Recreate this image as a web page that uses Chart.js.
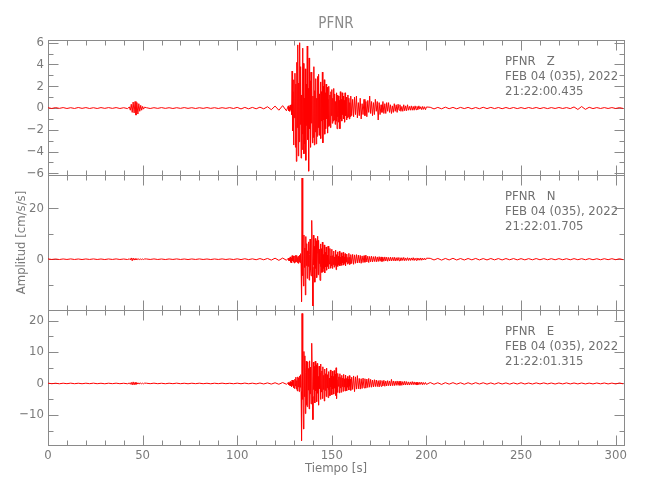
<!DOCTYPE html>
<html lang="es">
<head>
<meta charset="utf-8"/>
<title>PFNR</title>
<script src="https://cdn.jsdelivr.net/npm/chart.js"></script>
<style>
    body { margin: 0; background: #ffffff; }
    #wrap { position: relative; width: 650px; height: 500px; }
</style>
</head>
<body>
<div id="wrap"><canvas id="seis" width="650" height="500"></canvas></div>
<script>
// sample times (s) of the decimated traces
const time = [
    0,2,4,6,8,10,12,14,16,18,20,22,24,26,28,30,32,34,36,38,40,42,
    43,43.5,44,44.5,45,45.5,46,46.5,47,47.5,48,48.5,49,49.5,50,50.5,51,
    52,54,56,58,60,62,64,66,68,70,72,74,76,78,80,82,84,86,88,90,92,94,96,98,100,102,104,106,108,110,112,114,116,118,120,122,124,126,
    127,127.25,127.5,127.75,128,128.25,128.5,128.75,
    129,129.25,129.5,129.75,130,130.25,130.5,130.75,
    131,131.25,131.5,131.75,132,132.25,132.5,132.75,
    133,133.25,133.5,133.75,134,134.25,134.5,134.75,
    135,135.25,135.5,135.75,136,136.25,136.5,136.75,
    137,137.25,137.5,137.75,138,138.25,138.5,138.75,
    139,139.25,139.5,139.75,140,140.25,140.5,140.75,
    141,141.25,141.5,141.75,142,142.25,142.5,142.75,
    143,143.25,143.5,143.75,144,144.25,144.5,144.75,
    145,145.25,145.5,145.75,146,146.25,146.5,146.75,
    147,147.25,147.5,147.75,148,148.25,148.5,148.75,
    149,149.25,149.5,149.75,150,150.25,150.5,150.75,
    151,151.25,151.5,151.75,152,152.25,152.5,152.75,
    153,153.25,153.5,153.75,154,154.25,154.5,154.75,
    155,155.25,155.5,155.75,156,156.25,156.5,156.75,
    157,157.25,157.5,157.75,158,158.25,158.5,158.75,
    159,159.25,159.5,159.75,
    160,160.5,161,161.5,162,162.5,163,163.5,164,164.5,
    165,165.5,166,166.5,167,167.5,168,168.5,169,169.5,
    170,170.5,171,171.5,172,172.5,173,173.5,174,174.5,
    175,175.5,176,176.5,177,177.5,178,178.5,179,179.5,
    180,180.5,181,181.5,182,182.5,183,183.5,184,184.5,
    185,185.5,186,186.5,187,187.5,188,188.5,189,189.5,
    190,190.5,191,191.5,192,192.5,193,193.5,194,194.5,
    195,195.5,196,196.5,197,197.5,198,198.5,199,199.5,
    200,
    202,204,206,208,210,212,214,216,218,220,222,224,226,228,230,232,234,236,238,240,
    242,244,246,248,250,252,254,256,258,260,262,264,266,268,270,272,274,276,278,280,
    282,284,286,288,290,292,294,296,298,300,302,304
];

// componente Z (cm/s/s)
const accZ = [
    0.03,-0.04,0.04,-0.03,0.04,-0.04,0.03,-0.04,0.05,-0.03,0.04,-0.04,0.03,-0.04,0.04,-0.03,0.04,-0.03,0.04,-0.04,0.03,-0.05,
    0.1,-0.2,0.35,-0.4,0.55,-0.45,0.6,-0.65,0.5,-0.55,0.4,-0.3,0.25,-0.2,0.15,-0.1,0.08,
    0.03,-0.04,0.03,-0.03,0.04,-0.03,0.03,-0.04,0.03,-0.03,
    0.04,-0.03,0.03,-0.04,0.03,-0.03,0.04,-0.03,0.03,-0.04,
    0.03,-0.03,0.04,-0.04,0.06,-0.08,0.06,-0.07,0.06,-0.07,
    0.08,-0.07,0.12,-0.15,0.18,-0.2,0.22,-0.25,
    0.2,-0.25,0.1,-0.3,0.28,-0.15,0.3,-0.6,
    3.4,-2.1,1.5,-3.4,2.6,-0.9,3.2,-3.6,
    2.2,-4.9,4.2,-1.8,5.8,-4.4,2.3,-3.1,
    6.0,-1.5,3.8,-4.6,1.2,-3.8,5.5,-2.4,
    4.1,-4.2,0.9,-3.3,3.6,-4.8,2.2,-1.6,
    5.7,-2.9,1.8,-5.8,4.6,-1.9,2.5,-3.6,
    3.3,-1.4,2.1,-3.2,1.1,-2.7,3.8,-3.4,
    1.6,-2.2,2.7,-3.3,0.9,-2.6,2.9,-1.8,
    3.1,-2.5,1.3,-2.0,2.4,-2.8,1.5,-1.2,
    3.3,-3.2,2.0,-1.1,2.6,-2.4,1.4,-1.9,
    2.2,-1.0,1.9,-2.3,0.8,-1.7,2.0,-1.6,
    1.2,-1.8,1.5,-0.7,1.7,-1.4,0.9,-1.2,
    1.8,-1.1,1.3,-1.5,0.6,-1.2,1.4,-1.9,
    1.2,-0.8,1.1,-1.3,0.7,-1.9,1.5,-1.0,
    0.8,-1.2,1.4,-0.6,1.1,-1.0,0.7,-1.3,
    1.4,-0.7,1.0,-1.1,0.6,-0.9,1.2,-0.8,
    0.9,-1.0,0.5,-0.8,
    1.1,-0.7,0.8,-0.8,1.0,-0.6,1.1,-0.9,0.5,-0.7,
    0.9,-1.0,0.4,-0.6,0.8,-0.7,0.6,-0.8,0.7,-0.4,
    1.1,-0.5,0.6,-0.7,0.5,-0.6,0.8,-0.3,0.6,-1.1,
    0.5,-0.6,0.3,-0.4,0.6,-0.5,0.4,-0.5,0.5,-0.3,
    0.5,-0.4,0.3,-0.5,0.2,-0.4,0.4,-0.3,0.3,-0.4,
    0.35,-0.2,0.3,-0.3,0.15,-0.3,0.3,-0.25,0.2,-0.25,
    0.3,-0.2,0.15,-0.2,0.2,-0.2,0.15,-0.2,0.2,-0.15,
    0.15,-0.15,0.2,-0.1,0.12,-0.15,0.15,-0.12,0.12,-0.15,
    0.1,
    0.07,-0.08,0.06,-0.07,0.08,-0.06,0.06,-0.07,0.06,-0.05,
    0.06,-0.07,0.05,-0.06,0.07,-0.05,0.06,-0.05,0.05,-0.06,
    0.05,-0.05,0.05,-0.05,0.04,-0.05,0.05,-0.04,0.05,-0.05,
    0.04,-0.05,0.04,-0.04,0.05,-0.04,0.04,-0.05,0.1,-0.13,
    0.14,-0.12,0.07,-0.05,0.04,-0.04,0.04,-0.04,0.04,-0.04,
    0.04,-0.04
];

// componente N (cm/s/s)
const accN = [
    0.12,-0.1,0.09,-0.12,0.1,-0.09,0.12,-0.1,0.09,-0.12,0.1,-0.09,0.12,-0.1,0.09,-0.12,0.1,-0.09,0.12,-0.1,0.09,-0.12,
    0.15,-0.25,0.5,-0.6,0.45,-0.35,0.25,-0.25,0.2,-0.15,0.15,-0.15,0.12,-0.12,0.1,-0.12,0.1,
    0.1,-0.09,0.12,-0.1,0.09,-0.12,0.1,-0.09,0.12,-0.1,
    0.09,-0.12,0.1,-0.09,0.12,-0.1,0.09,-0.12,0.1,-0.09,
    0.12,-0.1,0.1,-0.12,0.15,-0.14,0.18,-0.16,0.15,-0.2,
    0.25,-0.22,0.3,-0.35,0.4,-0.45,0.45,-0.4,
    0.4,-0.5,0.3,-0.6,0.9,-1.2,0.5,-1.4,
    1.4,-0.6,1.3,-1.2,0.8,-1.5,1.3,-1.1,
    1.6,-0.9,1.4,-1.3,0.7,-1.6,1.2,-1.0,
    1.6,-1.4,2.2,-1.6,-16.6,31.8,-6.5,2.1,
    -10.5,9.5,-3.2,4.4,-14.0,8.9,-2.5,6.1,
    -7.5,3.3,-2.8,6.8,-8.2,1.9,7.9,-4.4,
    -6.5,2.5,15.2,-3.1,-18.3,9.4,-2.2,5.0,
    -9.0,8.1,-3.6,7.2,-7.2,2.4,9.0,-6.1,
    7.4,-1.7,3.9,-8.3,6.0,-2.9,4.1,-5.2,
    6.7,-4.9,1.8,-3.6,5.6,-5.4,2.7,-3.0,
    4.8,-4.3,1.6,-2.8,5.1,-3.8,2.2,-1.9,
    4.2,-3.5,1.3,-2.6,3.9,-3.6,1.4,-2.1,
    3.2,-3.1,0.9,-2.4,3.6,-4.1,1.8,-1.2,
    2.9,-2.8,1.1,-2.2,3.1,-2.6,0.8,-1.9,
    2.5,-2.4,1.2,-1.4,2.7,-2.3,0.9,-1.6,
    2.2,-2.5,1.0,-1.2,2.0,-1.9,0.7,-1.5,
    2.3,-2.1,0.8,-1.8,
    1.8,-1.7,1.9,-2.0,1.7,-1.6,1.8,-1.5,1.6,-1.4,
    1.5,-1.6,1.3,-1.3,1.4,-1.2,1.6,-1.1,1.2,-1.3,
    1.1,-1.0,1.2,-1.1,1.0,-0.9,1.1,-1.0,0.9,-0.9,
    1.0,-0.8,0.9,-0.9,0.8,-0.8,0.9,-0.7,0.8,-0.8,
    0.7,-0.7,0.8,-0.7,0.7,-0.6,0.8,-0.7,0.6,-0.6,
    0.7,-0.6,0.6,-0.6,0.6,-0.5,0.7,-0.6,0.5,-0.5,
    0.6,-0.5,0.5,-0.5,0.5,-0.4,0.6,-0.5,0.4,-0.4,
    0.5,-0.4,0.4,-0.4,0.5,-0.4,0.4,-0.3,0.4,-0.3,
    0.4,
    0.35,-0.3,0.3,-0.35,0.3,-0.28,0.35,-0.3,0.28,-0.3,
    0.28,-0.25,0.3,-0.28,0.25,-0.28,0.28,-0.25,0.25,-0.28,
    0.25,-0.22,0.25,-0.25,0.22,-0.25,0.22,-0.22,0.25,-0.22,
    0.22,-0.2,0.2,-0.22,0.22,-0.2,0.2,-0.22,0.22,-0.2,
    0.2,-0.2,0.22,-0.2,0.18,-0.2,0.2,-0.18,0.2,-0.18,
    0.18,-0.2
];

// componente E (cm/s/s)
const accE = [
    0.1,-0.08,0.07,-0.1,0.08,-0.07,0.1,-0.08,0.07,-0.09,0.08,-0.07,0.1,-0.08,0.07,-0.1,0.08,-0.07,0.09,-0.08,0.07,-0.1,
    0.15,-0.25,0.35,-0.45,0.5,-0.45,0.35,-0.3,0.25,-0.2,0.2,-0.15,0.15,-0.12,0.1,-0.12,0.1,
    0.08,-0.07,0.1,-0.08,0.07,-0.09,0.08,-0.07,0.1,-0.08,
    0.07,-0.1,0.08,-0.07,0.09,-0.08,0.07,-0.1,0.08,-0.07,
    0.1,-0.08,0.07,-0.09,0.1,-0.1,0.12,-0.1,0.1,-0.14,
    0.15,-0.16,0.18,-0.2,0.22,-0.25,0.3,-0.25,
    0.3,-0.4,0.2,-0.6,0.6,-0.8,0.4,-1.0,
    1.1,-0.6,1.0,-1.4,0.9,-1.6,1.4,-0.8,
    2.0,-1.8,0.9,-2.4,2.1,-1.1,1.8,-2.6,
    2.4,-1.2,2.8,-2.6,-18.2,22.3,-5.1,3.9,
    -14.5,10.2,-4.2,8.8,-9.6,3.5,7.1,-6.8,
    -7.4,6.9,-2.1,4.8,-8.1,7.2,-3.3,5.2,
    -6.5,2.3,12.8,-4.1,-11.5,6.8,-1.9,5.4,
    -6.2,7.1,-2.4,5.9,-5.8,6.4,-3.1,2.2,
    -6.9,5.5,-1.6,3.4,-5.1,6.2,-2.7,4.0,
    -4.8,5.3,-1.9,2.6,-5.6,4.6,-2.2,3.1,
    -4.2,4.9,-1.4,2.8,-4.5,3.8,-2.0,1.7,
    -3.9,4.3,-1.1,2.4,-3.6,3.9,-1.7,2.2,
    -3.4,4.1,-1.5,3.0,-3.8,5.0,-4.8,1.2,
    -2.9,3.2,-0.9,2.1,-3.0,3.1,-1.4,1.9,
    -2.8,2.6,-1.0,1.7,-2.5,2.9,-1.1,1.5,
    -2.4,2.7,-0.8,1.6,-2.3,2.2,-1.2,1.4,
    -2.1,2.5,-0.9,1.3,
    -2.2,2.0,-1.9,2.4,-2.6,2.1,-1.8,2.5,-1.7,1.6,
    -1.8,1.5,-1.6,1.7,-1.4,1.5,-1.5,1.4,-1.3,1.6,
    -1.2,1.3,-1.2,1.1,-1.1,1.2,-1.0,1.1,-1.0,0.9,
    -1.1,1.0,-0.9,0.9,-0.8,1.0,-0.9,0.8,-0.8,0.9,
    -0.7,0.8,-0.8,1.3,-0.7,0.8,-0.7,0.7,-0.6,0.8,
    -0.6,0.7,-0.6,0.7,-0.6,0.6,-0.5,0.7,-0.5,0.6,
    -0.5,0.5,-0.5,0.5,-0.4,0.6,-0.4,0.5,-0.4,0.4,
    -0.5,0.4,-0.4,0.4,-0.3,0.4,-0.4,0.3,-0.3,0.3,
    -0.3,
    0.3,-0.25,0.22,-0.3,0.25,-0.22,0.25,-0.22,0.22,-0.25,
    0.22,-0.22,0.25,-0.18,0.22,-0.22,0.18,-0.22,0.22,-0.18,
    0.18,-0.22,0.18,-0.18,0.22,-0.18,0.15,-0.18,0.18,-0.15,
    0.18,-0.15,0.15,-0.18,0.15,-0.15,0.18,-0.15,0.15,-0.15,
    0.15,-0.15,0.12,-0.15,0.15,-0.12,0.15,-0.15,0.12,-0.15,
    0.15,-0.12
];

// ejes
const xTicks = [0, 50, 100, 150, 200, 250, 300];
const xMinor = [10,20,30,40,60,70,80,90,110,120,130,140,160,170,180,190,210,220,230,240,260,270,280,290];
const zTicks = [-6, -4, -2, 0, 2, 4, 6];
const zMinor = [-5, -3, -1, 1, 3, 5];
const nTicks = [0, 20];
const nMinor = [-10, 10];
const eTicks = [-10, 0, 10, 20];
const eMinor = [-15, -5, 5, 15];

const stationLabels = ['PFNR   Z', 'PFNR   N', 'PFNR   E'];
const dateLabel = 'FEB 04 (035), 2022';
const startTimes = ['21:22:00.435', '21:22:01.705', '21:22:01.315'];

const FONT = "'Liberation Sans Narrow', 'DejaVu Sans Condensed', 'Liberation Sans', sans-serif";
const axisColor = '#8a8a8a';
const textColor = '#7a7a7a';

const panels = [
    {id: 'yZ', major: zTicks, minor: zMinor},
    {id: 'yN', major: nTicks, minor: nMinor},
    {id: 'yE', major: eTicks, minor: eMinor}
];

function trace(values, axis) {
    return {
        data: time.map((t, i) => ({x: t, y: values[i]})),
        yAxisID: axis,
        borderColor: '#ff0000',
        borderWidth: 1,
        pointRadius: 0,
        tension: 0,
        clip: false
    };
}

function yAxis(ticks, min, max, weight) {
    return {
        type: 'linear',
        position: 'left',
        stack: 'traces',
        stackWeight: 1,
        weight: weight,
        min: min,
        max: max,
        grid: {display: false, drawTicks: false},
        border: {display: false},
        afterBuildTicks: s => { s.ticks = ticks.map(v => ({value: v})); },
        afterFit: s => { s.width = 48; },
        ticks: {
            color: textColor,
            padding: 4,
            autoSkip: false,
            font: {family: FONT, size: 13},
            callback: v => String(v).replace('-', '\u2212')
        }
    };
}

// marcos, marcas de escala y rótulos de cada componente
const framePlugin = {
    id: 'panelFrames',
    beforeDatasetsDraw(chart) {
        const {ctx, chartArea, scales} = chart;
        const x = scales.x;
        const left = Math.round(chartArea.left) + 0.5;
        const right = Math.round(chartArea.right) + 0.5;
        ctx.save();
        ctx.strokeStyle = axisColor;
        ctx.lineWidth = 1;
        panels.forEach(p => {
            const y = scales[p.id];
            const top = Math.round(y.top) + 0.5;
            const bottom = Math.round(y.bottom) + 0.5;
            ctx.strokeRect(left, top, right - left, bottom - top);
            ctx.beginPath();
            const yt = (vals, len) => vals.forEach(v => {
                const py = Math.round(y.getPixelForValue(v)) + 0.5;
                ctx.moveTo(left, py); ctx.lineTo(left + len, py);
                ctx.moveTo(right, py); ctx.lineTo(right - len, py);
            });
            const xt = (vals, len) => vals.forEach(v => {
                const px = Math.round(x.getPixelForValue(v)) + 0.5;
                ctx.moveTo(px, top); ctx.lineTo(px, top + len);
                ctx.moveTo(px, bottom); ctx.lineTo(px, bottom - len);
            });
            yt(p.major, 10); yt(p.minor, 5);
            xt(xTicks, 10); xt(xMinor, 5);
            ctx.stroke();
        });
        ctx.restore();
    },
    afterDatasetsDraw(chart) {
        const {ctx, scales} = chart;
        ctx.save();
        ctx.fillStyle = '#707070';
        ctx.font = '13px ' + FONT;
        ctx.textBaseline = 'middle';
        ctx.textAlign = 'left';
        panels.forEach((p, i) => {
            const top = scales[p.id].top;
            ctx.fillText(stationLabels[i], 505, top + 22);
            ctx.fillText(dateLabel, 505, top + 37);
            ctx.fillText(startTimes[i], 505, top + 52);
        });
        ctx.restore();
    }
};

const yZ = yAxis(zTicks, -6.15, 6.25, 3);
const yN = yAxis(nTicks, -19.9, 33, 2);
const yE = yAxis(eTicks, -19.6, 23.4, 1);
yN.title = {
    display: true,
    text: 'Amplitud [cm/s/s]',
    color: textColor,
    font: {family: FONT, size: 13},
    padding: {top: 14, bottom: 0}
};

new Chart(document.getElementById('seis'), {
    type: 'line',
    data: {
        datasets: [trace(accZ, 'yZ'), trace(accN, 'yN'), trace(accE, 'yE')]
    },
    options: {
        responsive: false,
        animation: false,
        devicePixelRatio: 1,
        layout: {padding: {left: 0, right: 26, top: 0, bottom: 0}},
        plugins: {
            legend: {display: false},
            tooltip: {enabled: false},
            title: {
                display: true,
                text: 'PFNR',
                fullSize: false,
                color: '#8a8a8a',
                font: {family: FONT, size: 15, weight: 'normal'},
                padding: {top: 15, bottom: 7}
            }
        },
        scales: {
            x: {
                type: 'linear',
                position: 'bottom',
                min: 0,
                max: 304.4,
                grid: {display: false, drawTicks: false},
                border: {display: false},
                afterBuildTicks: s => { s.ticks = xTicks.map(v => ({value: v})); },
                afterFit: s => { s.height = 55; },
                ticks: {color: textColor, padding: 3, autoSkip: false, maxRotation: 0, font: {family: FONT, size: 13}},
                title: {
                    display: true,
                    text: 'Tiempo [s]',
                    color: textColor,
                    font: {family: FONT, size: 13},
                    padding: {top: 0, bottom: 24}
                }
            },
            yZ: yZ,
            yN: yN,
            yE: yE
        }
    },
    plugins: [framePlugin]
});
</script>
</body>
</html>
